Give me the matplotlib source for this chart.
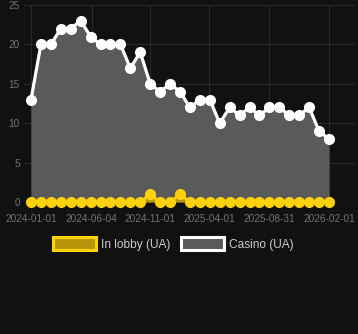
import matplotlib
matplotlib.use("Agg")
import matplotlib.pyplot as plt
import matplotlib.dates as mdates
from matplotlib.patches import Patch
import pandas as pd

# data
dates = pd.date_range("2024-01-01", "2026-02-01", periods=31)
casino = [13, 20, 20, 22, 22, 23, 21, 20, 20, 20,
          17, 19, 15, 14, 15, 14, 12, 13, 13, 10,
          12, 11, 12, 11, 12, 12, 11, 11, 12, 9, 8]
in_lobby = [0, 0, 0, 0, 0, 0, 0, 0, 0, 0,
            0, 0, 1, 0, 0, 1, 0, 0, 0, 0,
            0, 0, 0, 0, 0, 0, 0, 0, 0, 0, 0]
tick_dates = ["2024-01-01", "2024-06-04", "2024-11-01",
              "2025-04-01", "2025-08-31", "2026-02-01"]
series_names = ["In lobby (UA)", "Casino (UA)"]

BG = "#111111"
GRID = "#282828"
TICK = "#747474"
YELLOW = "#ffd10a"
YELLOW_FILL = "#b8960c"
GREY_FILL = "#5a5a5a"

plt.rcParams["font.family"] = ["Liberation Sans", "DejaVu Sans"]

fig = plt.figure(figsize=(3.58, 3.34), dpi=100, facecolor=BG)
W, H = 358, 334
ax = fig.add_axes([24 / W, 1 - 202 / H, (355 - 24) / W, (202 - 5) / H])
ax.set_facecolor(BG)

# casino area + line
ax.fill_between(dates, casino, 0, color=GREY_FILL, linewidth=0, zorder=2)
ax.plot(dates, casino, color="white", linewidth=2.3, marker="o",
        markersize=7.0, markerfacecolor="white", markeredgecolor="white",
        zorder=3, clip_on=False)

# in lobby area + line
ax.fill_between(dates, in_lobby, 0, color=YELLOW_FILL, linewidth=0, zorder=4)
ax.plot(dates, in_lobby, color=YELLOW, linewidth=2.0, marker="o",
        markersize=7.0, markerfacecolor=YELLOW, markeredgecolor=YELLOW,
        zorder=5, clip_on=False)

# axes range, in pixels -> dates
px_per_day = (329 - 31) / (pd.Timestamp("2026-02-01") - pd.Timestamp("2024-01-01")).days
left = pd.Timestamp("2024-01-01") - pd.Timedelta(days=(31 - 24) / px_per_day)
right = pd.Timestamp("2026-02-01") + pd.Timedelta(days=(355 - 329) / px_per_day)
ax.set_xlim(left, right)
ax.set_ylim(0, 25)

ax.set_xticks([pd.Timestamp(d) for d in tick_dates])
ax.xaxis.set_major_formatter(mdates.DateFormatter("%Y-%m-%d"))
ax.set_yticks([0, 5, 10, 15, 20, 25])

ax.grid(True, color=GRID, linewidth=0.8, zorder=0)
ax.tick_params(axis="both", length=0, colors=TICK, labelsize=7.2)
ax.tick_params(axis="x", pad=9)
ax.tick_params(axis="y", pad=3)
for s in ax.spines.values():
    s.set_visible(False)

handles = [
    Patch(facecolor=YELLOW_FILL, edgecolor=YELLOW, linewidth=2.2),
    Patch(facecolor=GREY_FILL, edgecolor="white", linewidth=2.2),
]
leg = fig.legend(handles, series_names, loc="center", ncol=2,
                 bbox_to_anchor=(173 / W, 1 - 244 / H), frameon=False,
                 fontsize=8.6, handlelength=3.6, handleheight=1.2,
                 handletextpad=0.4, columnspacing=0.9, labelcolor="#cccccc")

fig.savefig("out.png", dpi=100, facecolor=BG)
